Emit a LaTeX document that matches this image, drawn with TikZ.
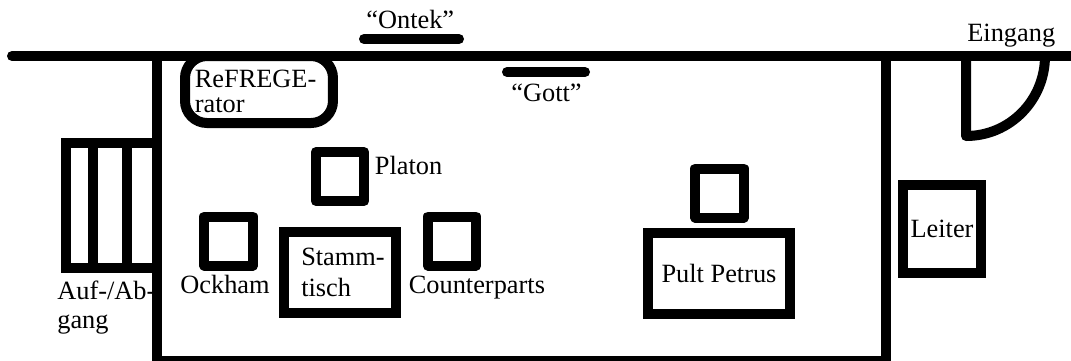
\documentclass[tikz,border=0pt]{standalone}
\usepackage{fontspec}
\setmainfont{Liberation Serif}
\usetikzlibrary{positioning}

\tikzset{
  wall/.style={line width=0.2cm, black},
  bar/.style={wall, line cap=round},
  chair/.style={draw, wall, line join=round, minimum width=0.97cm, minimum height=0.98cm, inner sep=0pt},
  desk/.style={draw, wall, inner sep=0pt, align=left, font=\planfont},
  lbl/.style={inner sep=0pt, anchor=base west, align=left, font=\planfont}
}
\newcommand{\planfont}{\fontsize{15}{14.2}\selectfont}

\begin{document}
\begin{tikzpicture}[x=0.02cm, y=-0.02cm]
	\clip (0,0) rectangle (1071,360);

	% ReFREGErator, its top runs into the wall
	\node[draw, wall, rounded corners=0.44cm, minimum width=2.96cm, minimum height=1.34cm] (fridge) at (259,89.5) {};

	% walls of the room
	\draw[wall, line cap=round] (12,56) -- (1080,56);
	\draw[wall] (156.5,56) -- (156.5,361) -- (886,361) -- (886,56);

	% bars on the wall
	\draw[bar] (364,39) -- (459,39);
	\draw[bar] (507,72) -- (585,72);

	% stairs
	\draw[wall] (156,143) -- (66,143) -- (66,268) -- (156,268);
	\foreach \x in {93,127} {
		\draw[wall] (\x,143) -- (\x,268);
	}

	% chairs
	\foreach \name/\x/\y in {platon/340/176.5, ockham/228.7/241, counter/452/241, petrus/719.6/193} {
		\node[chair] (\name) at (\x,\y) {};
	}

	% tables
	\node[desk, minimum width=2.24cm, minimum height=1.62cm] (stamm) at (340,272.5) {\hspace*{3.4pt}Stamm-\\[3.4pt]\hspace*{3.4pt}tisch};
	\node[desk, minimum width=2.85cm, minimum height=1.62cm] (pult) at (719,273.5) {Pult Petrus};
	\node[desk, minimum width=1.57cm, minimum height=1.76cm] (leiter) at (942,229) {Leiter};

	% door
	\draw[wall, line join=round] (966,56) -- (966,136) .. controls (1010,136) and (1045,100) .. (1045,56);

	% labels
	\node[lbl] (ontek) at (366,28) {“Ontek”};
	\node[lbl] (gott) at (511,101) {“Gott”};
	\node[lbl] (eingang) at (967,41.5) {Eingang};
	\node[lbl] (fridgetext) at (194.5,112) {ReFREGE-\\rator};
	\node[lbl] (platontext) at (374.5,174) {Platon};
	\node[lbl] (ockhamtext) at (180,293) {Ockham};
	\node[lbl] (countertext) at (408.5,293) {Counterparts};
	\node[lbl] (stairstext) at (57,328) {Auf-/Ab-\\[1.8pt]gang};
\end{tikzpicture}
\end{document}
